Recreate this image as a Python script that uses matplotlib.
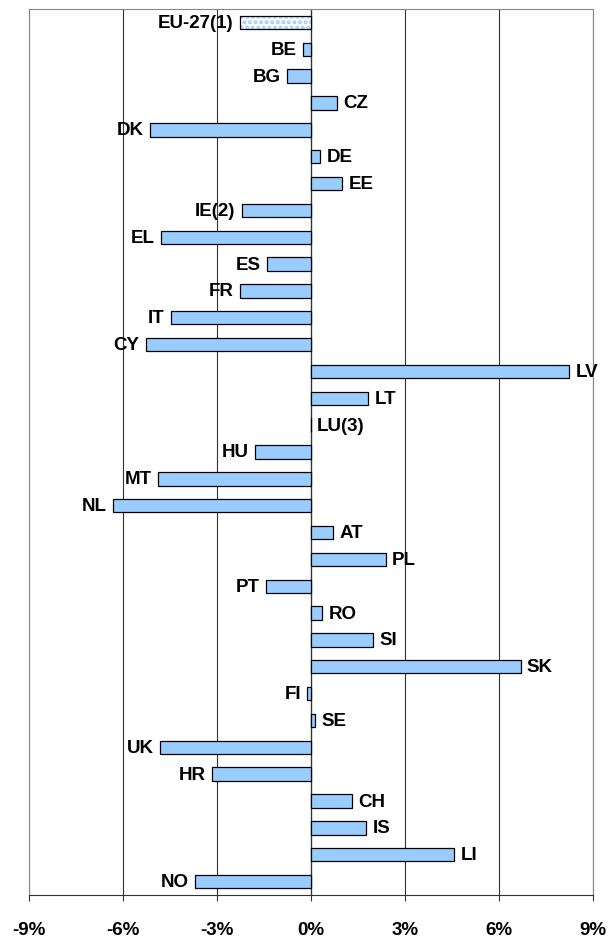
import matplotlib
matplotlib.use("Agg")
import matplotlib.pyplot as plt
import numpy as np

plt.rcParams['font.family'] = ['Liberation Sans', 'DejaVu Sans']

countries = ["EU-27(1)", "BE", "BG", "CZ", "DK", "DE", "EE", "IE(2)", "EL", "ES",
             "FR", "IT", "CY", "LV", "LT", "LU(3)", "HU", "MT", "NL", "AT",
             "PL", "PT", "RO", "SI", "SK", "FI", "SE", "UK", "HR", "CH",
             "IS", "LI", "NO"]
values = [-2.27, -0.25, -0.77, 0.85, -5.13, 0.30, 1.00, -2.20, -4.79, -1.38,
          -2.27, -4.45, -5.26, 8.25, 1.83, 0.0, -1.78, -4.86, -6.30, 0.72,
          2.39, -1.42, 0.37, 2.00, 6.69, -0.11, 0.15, -4.81, -3.15, 1.30,
          1.77, 4.58, -3.70]
tick_vals = [-9, -6, -3, 0, 3, 6, 9]
tick_labels = ["-9%", "-6%", "-3%", "0%", "3%", "6%", "9%"]

fig = plt.figure(figsize=(6.08, 9.37), dpi=100)
ax = fig.add_axes([28.5/608, 1-896/937, (593-28.5)/608, (896-10)/937])

y = np.arange(len(countries))
vals = np.array(values)
is_agg = np.array([c.startswith("EU") for c in countries])

# regular bars
ax.barh(y[~is_agg], vals[~is_agg], height=0.5, color="#99CCFF",
        edgecolor="black", linewidth=0.9, zorder=3)
# aggregate bar: dotted pattern
plt.rcParams['hatch.linewidth'] = 2.0
ax.barh(y[is_agg], vals[is_agg], height=0.5, color="white",
        edgecolor="#99CCFF", hatch="...", linewidth=0, zorder=3)
ax.barh(y[is_agg], vals[is_agg], height=0.5, fill=False,
        edgecolor="black", linewidth=0.9, zorder=4)

# labels
for yi, v, c in zip(y, vals, countries):
    if v < 0:
        ax.annotate(c, (v, yi), xytext=(-4.5, 0), textcoords="offset points",
                    ha="right", va="center", fontsize=13.5, fontweight="bold")
    else:
        ax.annotate(c, (v, yi), xytext=(4.5, 0), textcoords="offset points",
                    ha="left", va="center", fontsize=13.5, fontweight="bold")

ax.set_xlim(-9, 9)
ax.set_ylim(len(countries) - 0.5, -0.5)
ax.set_xticks(tick_vals)
ax.set_xticklabels(tick_labels, fontsize=13.5, fontweight="bold")
ax.set_yticks([])
ax.tick_params(axis="x", direction="out", length=4.5, width=0.8, color="#333333", pad=14)
ax.grid(axis="x", color="#333333", linewidth=0.8, zorder=0)
ax.axvline(0, color="#333333", linewidth=0.9, zorder=2)
for s in ax.spines.values():
    s.set_color("#888888")
    s.set_linewidth(0.8)
ax.spines["bottom"].set_color("#333333")

fig.savefig("out.png", dpi=100)
